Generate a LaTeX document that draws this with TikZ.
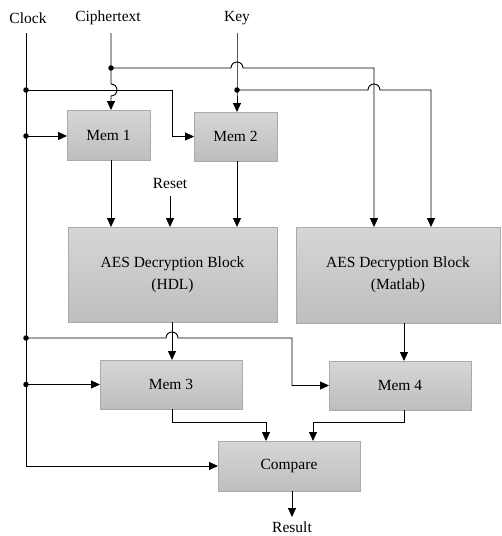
\documentclass[tikz,border=0pt]{standalone}
\usepackage{fontspec}
\setmainfont{Liberation Serif}
\usetikzlibrary{arrows.meta,calc}
\definecolor{boxtop}{RGB}{214,214,214}
\definecolor{boxbot}{RGB}{190,190,190}
\definecolor{boxline}{RGB}{170,170,170}
\tikzset{
  blk/.style={draw=boxline, line width=0.8pt, top color=boxtop, bottom color=boxbot,
    inner sep=0pt, outer sep=0pt, align=center, font=\fontsize{15.5}{22}\selectfont},
  lbl/.style={inner sep=0pt, font=\fontsize{15.5}{18}\selectfont},
  wire/.style={line width=0.9pt},
  arr/.style={line width=0.9pt, -{Triangle[length=9pt,width=8pt]}},
  dot/.style={circle, fill=black, inner sep=0pt, minimum size=5.5pt}
}
\begin{document}
\begin{tikzpicture}[x=1pt,y=-1pt]
\useasboundingbox (0,0) rectangle (502,536);
% labels
\node[lbl] (clock) at (28,18) {Clock};
\node[lbl] (ct) at (108,18) {Ciphertext};
\node[lbl] (key) at (237,18) {Key};
\node[lbl] (reset) at (170,183) {Reset};
\node[lbl] (result) at (292,527) {Result};
% blocks
\node[blk, minimum width=83pt, minimum height=50pt] (mem1) at (108.5,135) {Mem 1};
\node[blk, minimum width=83pt, minimum height=49pt] (mem2) at (235.5,136.5) {Mem 2};
\node[blk, minimum width=209pt, minimum height=95pt] (hdl) at (172.5,274.5) {AES Decryption Block\\(HDL)};
\node[blk, minimum width=204pt, minimum height=96pt] (mat) at (398,275) {AES Decryption Block\\(Matlab)};
\node[blk, minimum width=142pt, minimum height=49pt] (mem3) at (171,384.5) {Mem 3};
\node[blk, minimum width=142pt, minimum height=49pt] (mem4) at (400,385.5) {Mem 4};
\node[blk, minimum width=142pt, minimum height=50pt] (cmp) at (289,466) {Compare};
% coordinates
\coordinate (clktop) at (26,33);
\coordinate (cttop) at (111,33);
\coordinate (keytop) at (237,33);
\coordinate (ctj) at (111,68);
\coordinate (keyj) at (237,90);
\coordinate (clkj1) at (26,90);
\coordinate (clkj2) at (26,136);
\coordinate (clkj3) at (26,338);
\coordinate (clkj4) at (26,384.5);
\coordinate (xa) at (374,0);
\coordinate (xb) at (431,0);
\coordinate (xm4) at (404,0);
\coordinate (xh) at (172,0);
\coordinate (xc1) at (266,0);
\coordinate (xc2) at (313,0);
\coordinate (xk) at (292,0);
% clock
\draw[arr] (clktop) |- (cmp.west);
\draw[arr] (clkj2) -- (clkj2 -| mem1.west);
\draw[arr] (clkj1) -- (172,90) |- (mem2.west);
\draw[arr] (clkj3) -- (166,338) arc[start angle=180,end angle=0,radius=6pt] -- (xk |- clkj3) |- (mem4.west);
\draw[arr] (clkj4) -- (mem3.west);
% ciphertext
\draw[arr] (cttop) -- (ctj) -- (111,84) arc[start angle=90,end angle=-90,radius=6pt] -- (ctj |- mem1.north);
\draw[arr] (ctj) -- (231,68) arc[start angle=180,end angle=0,radius=6pt] -- (xa |- ctj) -- (xa |- mat.north);
% key
\draw[arr] (keytop) -- (keyj) -- (keyj |- mem2.north);
\draw[arr] (keyj) -- (368,90) arc[start angle=180,end angle=0,radius=6pt] -- (xb |- keyj) -- (xb |- mat.north);
% into HDL
\draw[arr] (ctj |- mem1.south) -- (ctj |- hdl.north);
\draw[arr] (reset.south |- 0,196) -- (reset.south |- hdl.north);
\draw[arr] (keyj |- mem2.south) -- (keyj |- hdl.north);
% outputs
\draw[arr] (xh |- hdl.south) -- (xh |- mem3.north);
\draw[arr] (xm4 |- mat.south) -- (xm4 |- mem4.north);
\draw[arr] (xh |- mem3.south) -- (172,422) -| (xc1 |- cmp.north);
\draw[arr] (xm4 |- mem4.south) -- (404,422) -| (xc2 |- cmp.north);
\draw[arr] (xk |- cmp.south) -- (xk |- 0,517);
% dots
\foreach \p in {ctj,keyj,clkj1,clkj2,clkj3,clkj4} \node[dot] at (\p) {};
\end{tikzpicture}
\end{document}
